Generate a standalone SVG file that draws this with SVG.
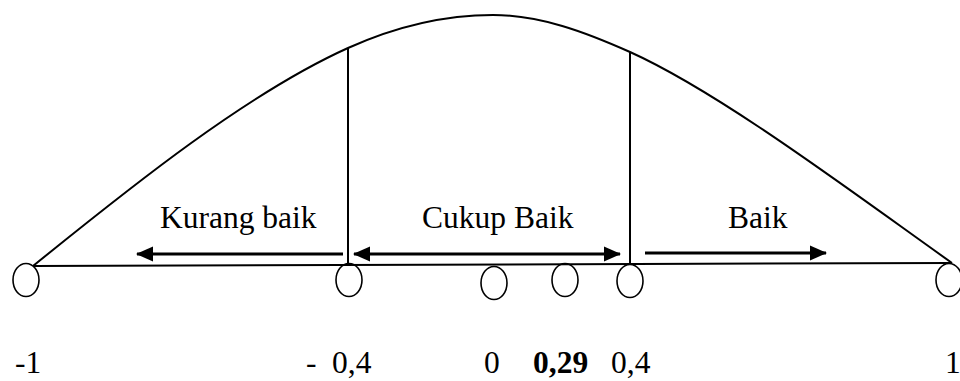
<svg xmlns="http://www.w3.org/2000/svg" width="960" height="381" viewBox="0 0 960 381">
<style>
.pt{fill:none;stroke:#000;stroke-width:1.6}
.ln{fill:none;stroke:#000;stroke-width:2}
.ar{fill:none;stroke:#000;stroke-width:3}
.t{font-family:"Liberation Serif","Times New Roman",serif;font-size:31.5px;fill:#000}
.b{font-weight:bold}
</style>
<defs>
<marker id="ah" markerUnits="userSpaceOnUse" markerWidth="17" markerHeight="16" viewBox="0 0 17 16" refX="16" refY="8" orient="auto-start-reverse">
<path d="M0,0.5 L17,8 L0,15.5 z" fill="#000"/>
</marker>
</defs>
<rect width="960" height="381" fill="#fff"/>
<g id="connectors">
<path class="ln" d="M33,266 C133,185 248,93 348,48 C398,25.5 445,15 493,15 C540,15 585,32 630,52 C720,92.5 852,192 952,263"/>
<line class="ln" x1="33" y1="266" x2="952" y2="263"/>
<line class="ln" x1="348" y1="48" x2="348" y2="265"/>
<line class="ln" x1="630" y1="52" x2="630" y2="264"/>
<line class="ar" x1="343" y1="254" x2="137" y2="254" marker-end="url(#ah)"/>
<line class="ar" x1="354" y1="254" x2="620" y2="254" marker-start="url(#ah)" marker-end="url(#ah)"/>
<line class="ar" x1="645" y1="253" x2="826" y2="253" marker-end="url(#ah)"/>
</g>
<g id="label-kurang"><text class="t" x="160" y="228">Kurang baik</text></g>
<g id="label-cukup"><text class="t" x="422" y="228">Cukup Baik</text></g>
<g id="label-baik"><text class="t" x="728" y="228">Baik</text></g>
<g id="p-neg1"><ellipse class="pt" cx="26" cy="280" rx="13" ry="16.5"/><text class="t" x="15" y="373">-1</text></g>
<g id="p-neg04"><ellipse class="pt" cx="349" cy="280" rx="13" ry="16.5"/><text class="t" x="306" y="373">-<tspan x="332">0,4</tspan></text></g>
<g id="p-0"><ellipse class="pt" cx="494" cy="283" rx="13" ry="16.5"/><text class="t" x="484" y="373">0</text></g>
<g id="p-029"><ellipse class="pt" cx="565" cy="280" rx="13" ry="16.5"/><text class="t b" x="533" y="373">0,29</text></g>
<g id="p-04"><ellipse class="pt" cx="630" cy="281" rx="13" ry="16.5"/><text class="t" x="611" y="373">0,4</text></g>
<g id="p-1"><ellipse class="pt" cx="949" cy="280" rx="13" ry="16.5"/><text class="t" x="945" y="373">1</text></g>
</svg>
